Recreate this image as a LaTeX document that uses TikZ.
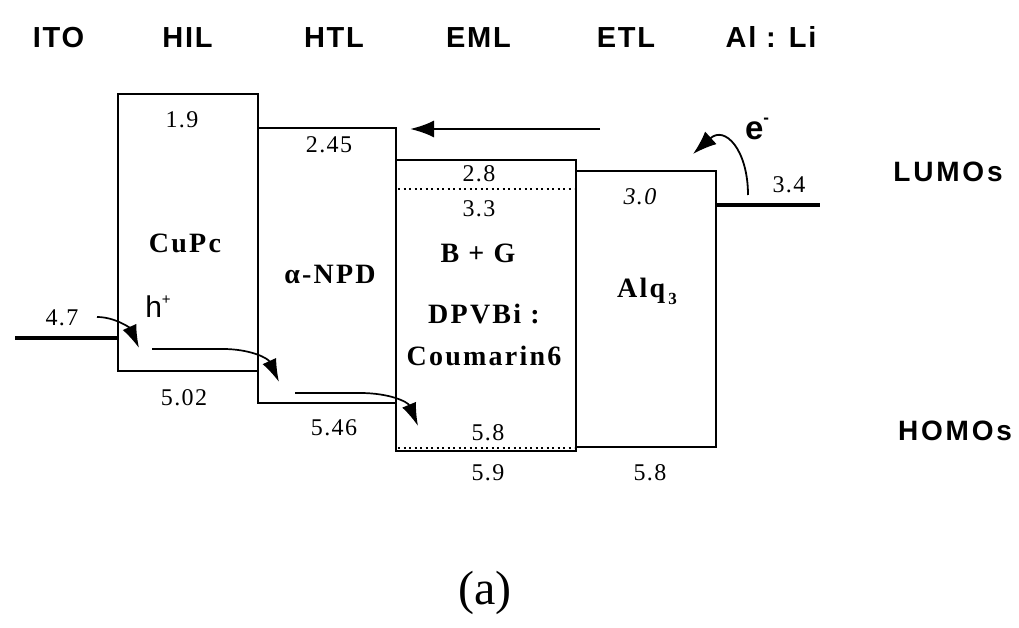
\documentclass[tikz,border=0pt]{standalone}
\usepackage{fontspec}
\setmainfont{Liberation Serif}
\newfontfamily\numfont[LetterSpace=6]{Liberation Serif}
\newfontfamily\lblfont[LetterSpace=8]{Liberation Serif}
\newfontfamily\hdrfont[LetterSpace=6]{Liberation Sans}
\newfontfamily\sidefont[LetterSpace=10]{Liberation Sans}
\newfontfamily\sanfont{Liberation Sans}
\usetikzlibrary{arrows.meta}
\tikzset{
  band/.style={draw=black, line width=1.5pt},
  contact/.style={draw=black, line width=4.5pt},
  lvl/.style={draw=black, line width=1.6pt, dash pattern=on 2pt off 3.5pt},
  num/.style={anchor=base, inner sep=0pt, font=\numfont\fontsize{24}{26}\selectfont},
  lbl/.style={anchor=base, inner sep=0pt, font=\lblfont\bfseries\fontsize{28}{30}\selectfont},
  hdr/.style={anchor=base, inner sep=0pt, font=\hdrfont\bfseries\fontsize{29}{30}\selectfont},
  side/.style={anchor=base, inner sep=0pt, font=\sidefont\bfseries\fontsize{28}{30}\selectfont},
  flow/.style={draw=black, line width=1.7pt, -{Latex[length=23pt,width=15pt]}},
  bigflow/.style={draw=black, line width=2.4pt, -{Latex[length=24pt,width=17pt]}},
}
\begin{document}
\begin{tikzpicture}[x=1pt,y=-1pt]
\useasboundingbox (0,0) rectangle (1019,628);

% header labels
\node[hdr] (hITO) at (58.5,48) {ITO};
\node[hdr] (hHIL) at (187.5,48) {HIL};
\node[hdr] (hHTL) at (334,48) {HTL};
\node[hdr] (hEML) at (478.5,48) {EML};
\node[hdr] (hETL) at (626,48) {ETL};
\node[hdr] (hAlLi) at (771,48) {Al : Li};

% band boxes
\draw[band] (118,94) rectangle (258,371);
\draw[band] (258,128) rectangle (396,403);
\draw[band] (396,160) rectangle (576,451);
\draw[band] (576,171) rectangle (716,447);
\draw[lvl] (398,189) -- (574,189);
\draw[lvl] (398,448) -- (574,448);

% contacts
\coordinate (itoL) at (15,338);
\coordinate (itoR) at (118,338);
\draw[contact] (itoL) -- (itoR);
\coordinate (alL) at (716,205);
\coordinate (alR) at (820,205);
\draw[contact] (alL) -- (alR);

% energy values
\node[num] (v19) at (182,128) {1.9};
\node[num] (v245) at (329,153) {2.45};
\node[num] (v28) at (479,182) {2.8};
\node[num] (v33) at (479,217) {3.3};
\node[num, font=\numfont\itshape\fontsize{24}{26}\selectfont] (v30) at (640,205) {3.0};
\node[num] (v34) at (789,193) {3.4};
\node[num] (v47) at (62,325) {4.7};
\node[num] (v502) at (184,405) {5.02};
\node[num] (v546) at (334,435) {5.46};
\node[num] (v58e) at (488,440) {5.8};
\node[num] (v59) at (488,480) {5.9};
\node[num] (v58a) at (650,480) {5.8};

% material labels
\node[lbl] (cupc) at (185,252) {CuPc};
\node[lbl] (npd) at (330,283) {α-NPD};
\node[lbl] (bg) at (478,262) {B + G};
\node[lbl] (dpvbi) at (484,323) {DPVBi :};
\node[lbl] (coum) at (484,365) {Coumarin6};
\node[lbl] (alq) at (647,297) {Alq\kern3pt\raisebox{-7pt}{\fontsize{17}{18}\selectfont 3}};

% side labels
\node[side] (lumo) at (948,182) {LUMOs};
\node[side] (homo) at (955,440) {HOMOs};

% carriers
\node[anchor=base, inner sep=0pt, font=\sanfont\fontsize{30}{32}\selectfont] (hp) at (158,317) {h\raisebox{13pt}{\fontsize{15}{16}\selectfont +}};
\node[anchor=base, inner sep=0pt, font=\sanfont\bfseries\fontsize{33}{34}\selectfont] (em) at (757,140) {e\raisebox{16pt}{\fontsize{17}{16}\selectfont -}};

% hole flow
\coordinate (h1s) at (97,317);
\coordinate (h1e) at (139,348);
\draw[flow] (h1s) .. controls (115,317) and (130,328) .. (h1e);
\coordinate (h2s) at (152,349);
\coordinate (h2m) at (223,349);
\coordinate (h2e) at (279,382);
\draw[flow] (h2s) -- (h2m) .. controls (250,349) and (268,358) .. (h2e);
\coordinate (h3s) at (295,393);
\coordinate (h3m) at (360,393);
\coordinate (h3e) at (418,426);
\draw[flow] (h3s) -- (h3m) .. controls (390,393) and (408,402) .. (h3e);

% electron flow
\coordinate (e1s) at (748,195);
\coordinate (e1e) at (693,154);
\draw[flow, line width=1.8pt, -{Latex[length=24pt,width=17pt]}] (e1s) .. controls (748,150) and (725,125) .. (e1e);
\coordinate (tS) at (600,129);
\coordinate (tE) at (410,129);
\draw[bigflow] (tS) -- (tE);

% caption
\node[anchor=base, inner sep=0pt, font=\fontsize{48}{52}\selectfont] (cap) at (485,604) {(a)};
\end{tikzpicture}
\end{document}
